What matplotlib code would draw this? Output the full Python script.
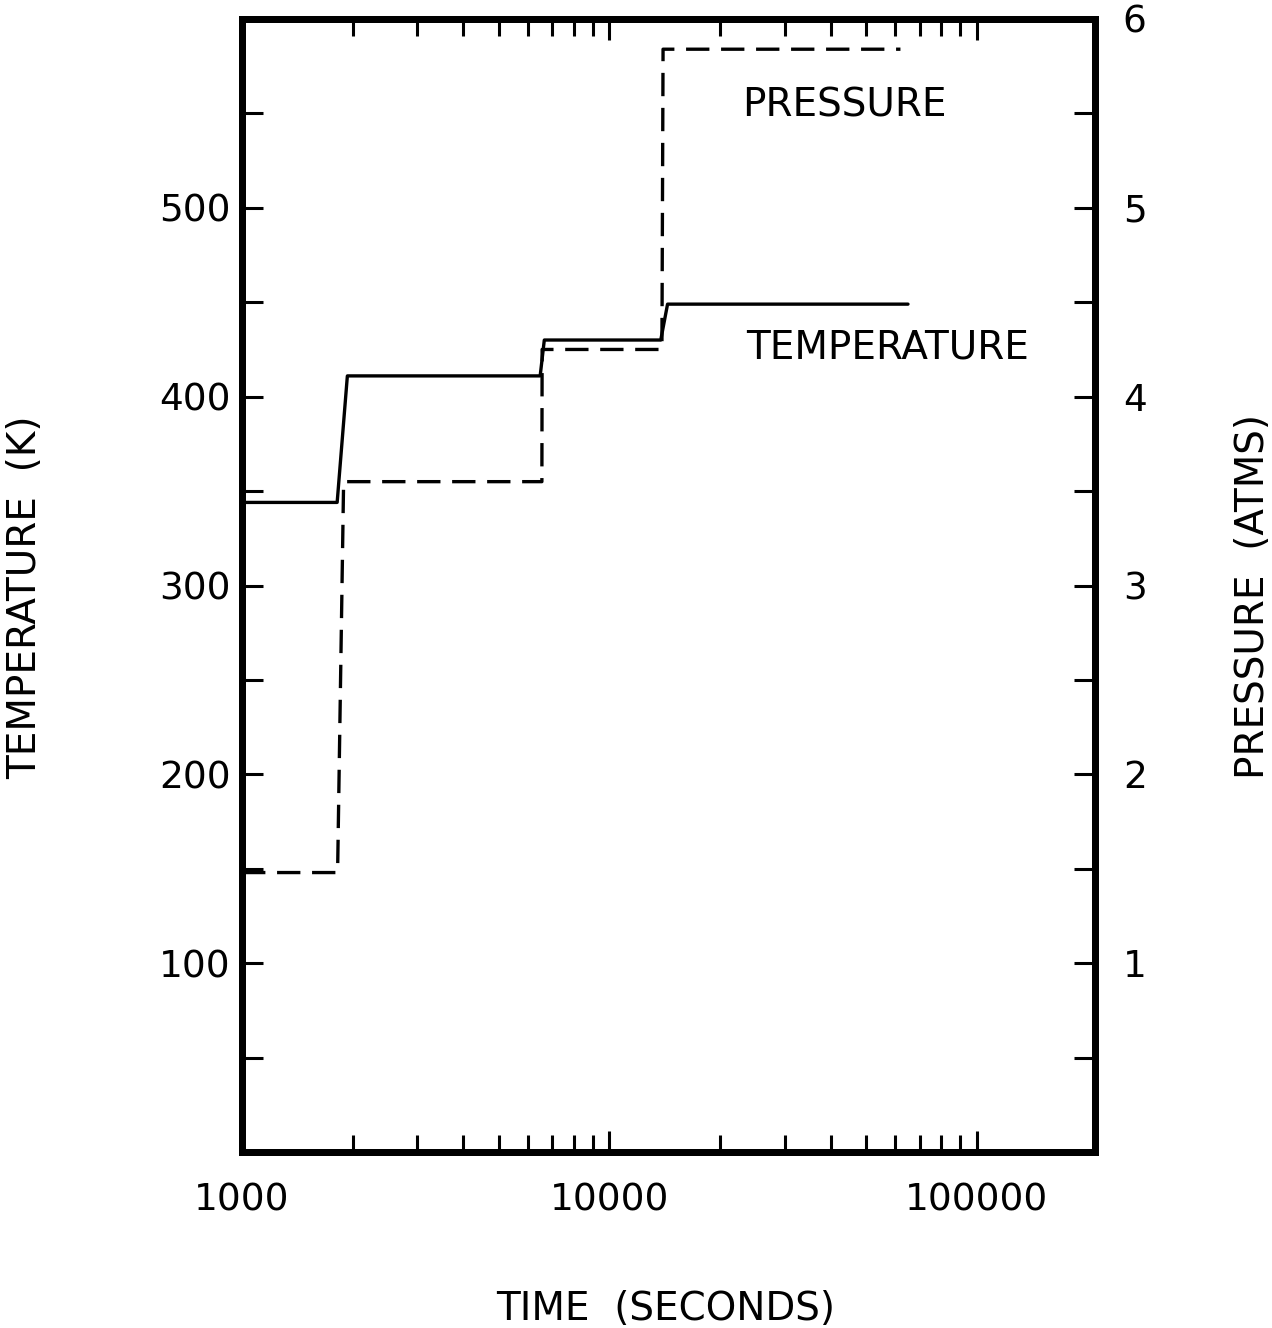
import matplotlib
matplotlib.use("Agg")
import matplotlib.pyplot as plt
from matplotlib.ticker import FixedLocator, NullFormatter, FixedFormatter

# Data
temp_time = [1000, 1815, 1935, 6480, 6650, 13800, 14400, 65000]
temp_vals = [344, 344, 411, 411, 430, 430, 449, 449]
pres_time = [1000, 1820, 1890, 6550, 6560, 13900, 14000, 62000]
pres_vals = [1.48, 1.48, 3.55, 3.55, 4.25, 4.25, 5.84, 5.84]

x_major = [1000, 10000, 100000]
x_major_labels = ["1000", "10000", "100000"]
x_minor = [m * d for d in (1000, 10000) for m in range(2, 10)]
temp_ticks = [100, 200, 300, 400, 500]
temp_minor = [50, 150, 250, 350, 450, 550]
pres_ticks = [1, 2, 3, 4, 5, 6]
pres_minor = [0.5, 1.5, 2.5, 3.5, 4.5, 5.5]

plt.rcParams['font.family'] = ['DejaVu Sans']
fs = 27

fig = plt.figure(figsize=(12.72, 13.28), dpi=100)
ax = fig.add_axes([0.1903, 0.1325, 0.6706, 0.8532])
ax2 = ax.twinx()

ax.set_xscale('log')
ax.set_xlim(1000, 2.1e5)
ax.set_ylim(0, 600)
ax2.set_ylim(0, 6)

ax.plot(temp_time, temp_vals, color='black', lw=2.4, solid_capstyle='round')
ax2.plot(pres_time, pres_vals, color='black', lw=2.4, dashes=(7, 3.5))

for sp in ax.spines.values():
    sp.set_linewidth(5)
for sp in ax2.spines.values():
    sp.set_linewidth(5)

ax.xaxis.set_major_locator(FixedLocator(x_major))
ax.xaxis.set_major_formatter(FixedFormatter(x_major_labels))
ax.xaxis.set_minor_locator(FixedLocator(x_minor))
ax.xaxis.set_minor_formatter(NullFormatter())
ax.tick_params(axis='x', which='major', direction='in', length=15, width=2.2,
               top=True, bottom=True, labelsize=fs, pad=22)
ax.tick_params(axis='x', which='minor', direction='in', length=12, width=2.2,
               top=True, bottom=True)

ax.yaxis.set_major_locator(FixedLocator(temp_ticks))
ax.yaxis.set_minor_locator(FixedLocator(temp_minor))
ax.yaxis.set_minor_formatter(NullFormatter())
ax.tick_params(axis='y', which='both', direction='in', length=15, width=2.2,
               left=True, right=False, labelsize=fs, pad=8)

ax2.yaxis.set_major_locator(FixedLocator(pres_ticks))
ax2.yaxis.set_minor_locator(FixedLocator(pres_minor))
ax2.yaxis.set_minor_formatter(NullFormatter())
ax2.tick_params(axis='y', which='both', direction='in', length=15, width=2.2,
                labelsize=fs, pad=20)

ax.set_xlabel("TIME  (SECONDS)", fontsize=28)
ax.set_ylabel("TEMPERATURE  (K)", fontsize=28)
ax2.set_ylabel("PRESSURE  (ATMS)", fontsize=28)
ax.xaxis.set_label_coords(0.496, -0.122)
ax.yaxis.set_label_coords(-0.232, 0.49)
ax2.yaxis.set_label_coords(1.163, 0.49)

ax.text(23000, 554, "PRESSURE", fontsize=28, ha='left', va='center')
ax.text(23500, 426, "TEMPERATURE", fontsize=28, ha='left', va='center')

fig.savefig("out.png", dpi=100)
